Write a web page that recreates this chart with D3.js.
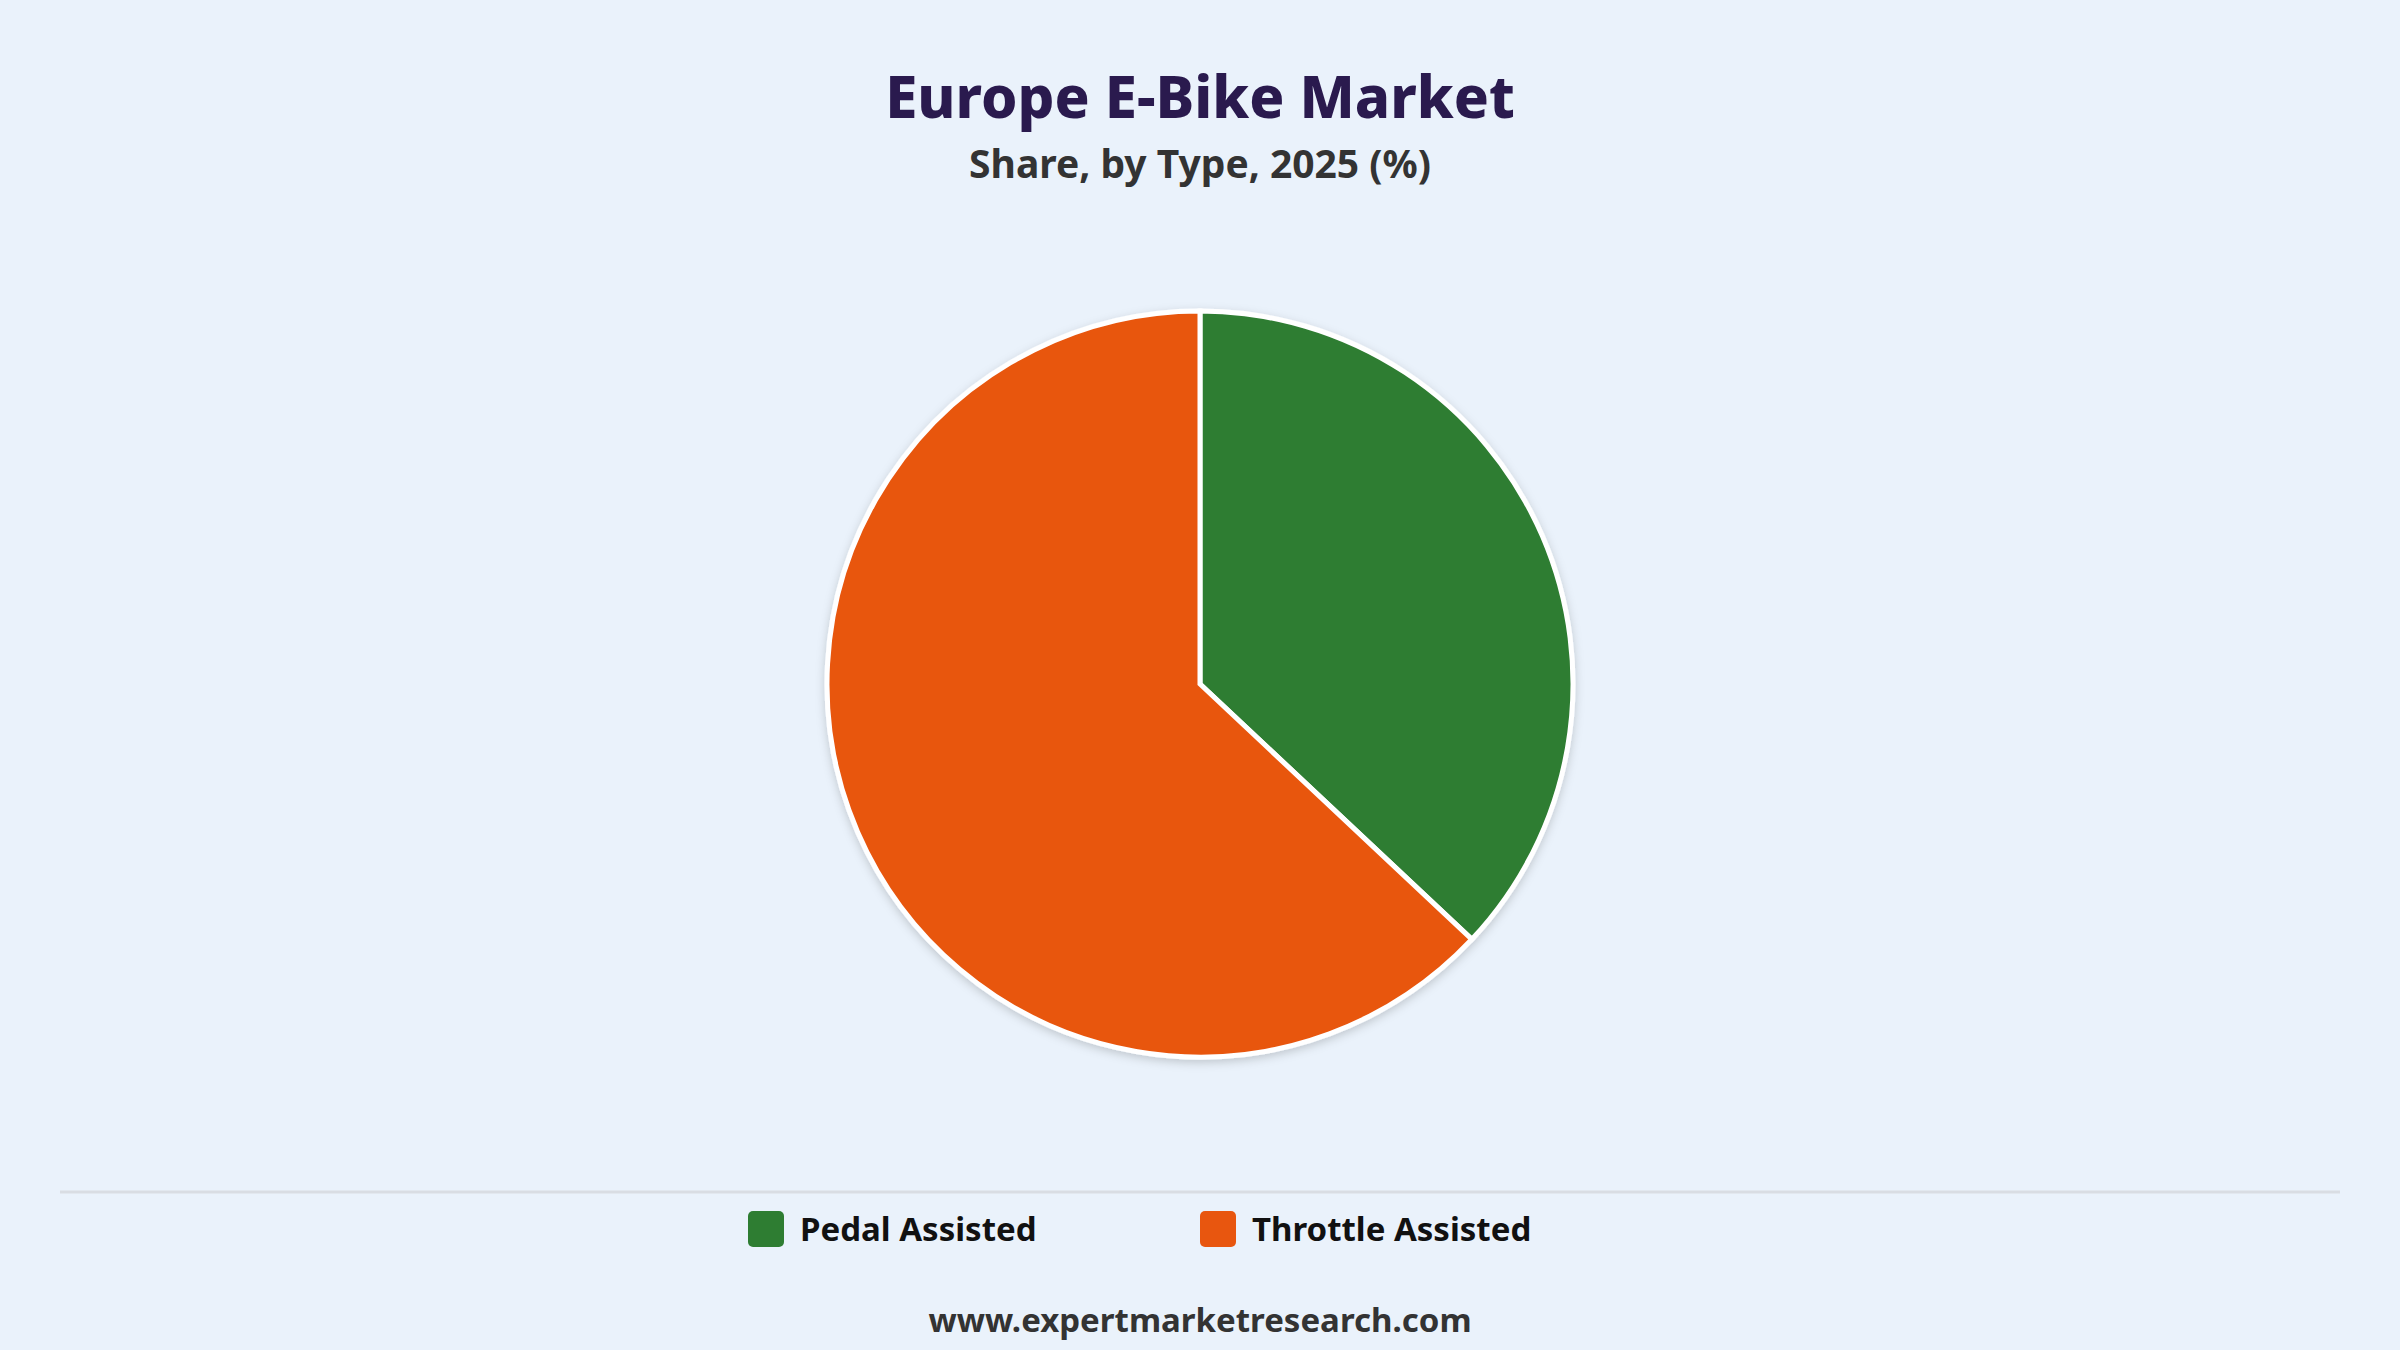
<!DOCTYPE html>
<html>
<head>
<meta charset="utf-8">
<script src="https://cdn.jsdelivr.net/npm/d3@7"></script>
<style>
  body { margin: 0; background: #eaf2fb; }
  svg { display: block; font-family: 'Noto Sans', 'Open Sans', sans-serif; }
</style>
</head>
<body>
<div id="chart"></div>
<script>
// chart values
const categories = ['Pedal Assisted', 'Throttle Assisted']
const shares = [37, 63]
const colors = ['#2e7d32', '#e8560f']

const width = 2400, height = 1350
const cx = 1200, cy = 684, radius = 373

const svg = d3.select('#chart').append('svg')
  .attr('width', width).attr('height', height)

svg.append('rect').attr('width', width).attr('height', height).attr('fill', '#eaf2fb')

// drop shadow for the pie
const defs = svg.append('defs')
const filter = defs.append('filter').attr('id', 'shadow')
  .attr('x', '-20%').attr('y', '-20%').attr('width', '140%').attr('height', '140%')
filter.append('feDropShadow').attr('dx', 0).attr('dy', 3).attr('stdDeviation', 5)
  .attr('flood-color', '#000').attr('flood-opacity', 0.18)

// titles
svg.append('text').attr('x', cx).attr('y', 118).attr('text-anchor', 'middle')
  .attr('font-size', 58).attr('font-weight', 800).attr('fill', '#2a1a4e')
  .text('Europe E-Bike Market')
svg.append('text').attr('x', cx).attr('y', 178).attr('text-anchor', 'middle')
  .attr('font-size', 39).attr('font-weight', 700).attr('fill', '#333')
  .text('Share, by Type, 2025 (%)')

// pie
const data = categories.map((c, i) => ({ name: c, value: shares[i], color: colors[i] }))
const pie = d3.pie().value(d => d.value).sort(null)
const arc = d3.arc().innerRadius(0).outerRadius(radius)

const pieGroup = svg.append('g')
  .attr('transform', `translate(${cx},${cy})`)
  .attr('filter', 'url(#shadow)')

pieGroup.selectAll('path')
  .data(pie(data))
  .join('path')
  .attr('d', arc)
  .attr('fill', d => d.data.color)
  .attr('stroke', '#fff')
  .attr('stroke-width', 5)

// legend separator
svg.append('line').attr('x1', 60).attr('x2', 2340).attr('y1', 1192).attr('y2', 1192)
  .attr('stroke', '#d9dde3').attr('stroke-width', 3)

const legendX = [748, 1200]
const legend = svg.append('g').selectAll('g')
  .data(data)
  .join('g')
  .attr('transform', (d, i) => `translate(${legendX[i]},1211)`)
legend.append('rect').attr('width', 36).attr('height', 36).attr('rx', 5)
  .attr('fill', d => d.color)
legend.append('text').attr('x', 52).attr('y', 30)
  .attr('font-size', 33).attr('font-weight', 700).attr('fill', '#111')
  .text(d => d.name)

// footer
svg.append('text').attr('x', cx).attr('y', 1332).attr('text-anchor', 'middle')
  .attr('font-size', 33).attr('font-weight', 700).attr('fill', '#333')
  .text('www.expertmarketresearch.com')
</script>
</body>
</html>
